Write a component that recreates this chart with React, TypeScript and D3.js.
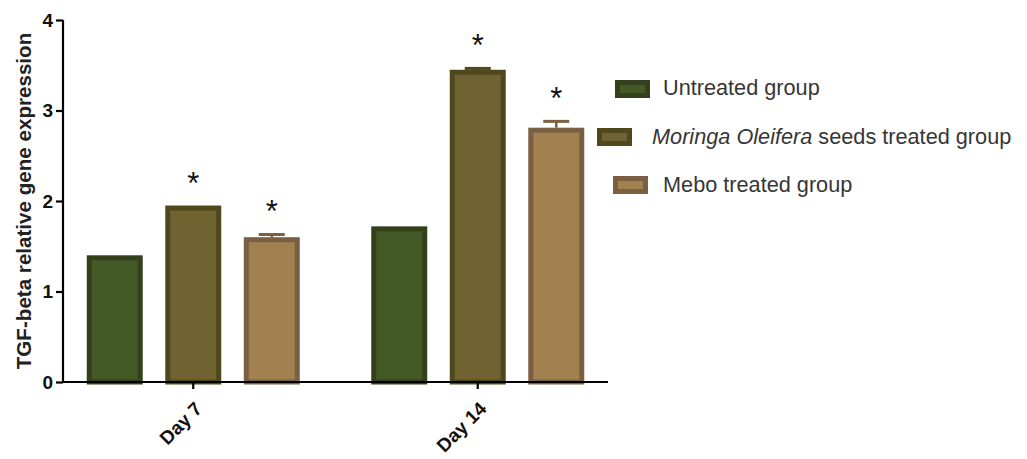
import React, { useRef, useEffect } from "react";
import * as d3 from "d3";

const days = ["Day 7", "Day 14"];
const groups = ["Untreated group", "Moringa Oleifera seeds treated group", "Mebo treated group"];
const untreated = [1.4, 1.72];
const moringa = [1.95, 3.45];
const mebo = [1.6, 2.81];
const moringaErr = [0, 0.015];
const meboErr = [0.03, 0.07];
const starred = [[false, true, true], [false, true, true]];
const yTicks = [0, 1, 2, 3, 4];

const fills = ["#435a26", "#706231", "#a1814f"];
const strokes = ["#343f1b", "#4e481c", "#7a5f43"];
const font = "Liberation Sans, Arial, sans-serif";

const App = () => {
  const svgRef = useRef<SVGSVGElement>(null);

  useEffect(() => {
    const svg = d3.select(svgRef.current);
    svg.selectAll("*").remove();

    const values = [untreated, moringa, mebo];
    const errs = [[0, 0], moringaErr, meboErr];
    const data = days.flatMap((day, i) =>
      groups.map((g, j) => ({ day, group: g, gi: j, value: values[j][i], err: errs[j][i], star: starred[i][j] }))
    );

    const y = d3.scaleLinear().domain([0, 4]).range([382, 20]);
    const x = d3.scaleBand().domain(days).range([51, 620]).padding(0);
    const inner = d3.scaleBand().domain(groups).range([-106.5, 106.5]).paddingInner(0.287).paddingOuter(0);
    const cx = (d) => x(d.day)! + x.bandwidth() / 2 + inner(d.group)!;
    const sw = 5;

    // bars
    svg.append("g").selectAll("rect").data(data).join("rect")
      .attr("x", (d) => cx(d) + sw / 2)
      .attr("y", (d) => y(d.value) + sw / 2)
      .attr("width", inner.bandwidth() - sw)
      .attr("height", (d) => y(0) - y(d.value) - sw / 2)
      .attr("fill", (d) => fills[d.gi])
      .attr("stroke", (d) => strokes[d.gi])
      .attr("stroke-width", sw);

    // error bars
    const eb = svg.append("g").selectAll("g").data(data.filter((d) => d.err > 0)).join("g");
    eb.append("line")
      .attr("x1", (d) => cx(d) + inner.bandwidth() / 2)
      .attr("x2", (d) => cx(d) + inner.bandwidth() / 2)
      .attr("y1", (d) => y(d.value))
      .attr("y2", (d) => y(d.value + d.err))
      .attr("stroke", (d) => strokes[d.gi]).attr("stroke-width", 2.5);
    eb.append("line")
      .attr("x1", (d) => cx(d) + inner.bandwidth() / 2 - 13)
      .attr("x2", (d) => cx(d) + inner.bandwidth() / 2 + 13)
      .attr("y1", (d) => y(d.value + d.err))
      .attr("y2", (d) => y(d.value + d.err))
      .attr("stroke", (d) => strokes[d.gi]).attr("stroke-width", 3);

    // significance stars
    svg.append("g").selectAll("text").data(data.filter((d) => d.star)).join("text")
      .attr("x", (d) => cx(d) + inner.bandwidth() / 2)
      .attr("y", (d) => y(d.value + d.err) - 12)
      .attr("text-anchor", "middle")
      .attr("font-size", 31)
      .attr("font-family", font)
      .attr("fill", "#111")
      .text("*");

    // y axis
    const ya = svg.append("g").attr("transform", "translate(63,0)")
      .call(d3.axisLeft(y).tickValues(yTicks).tickFormat(d3.format("d")).tickSize(7).tickPadding(3));
    ya.select(".domain").attr("stroke-width", 2.2).attr("d", `M0,${y(4)}V${y(0)}`);
    ya.selectAll(".tick line").attr("stroke-width", 2.2);
    ya.selectAll(".tick text").attr("font-size", 19).attr("font-weight", "bold").attr("fill", "#111")
      .attr("font-family", font);

    // x axis
    const xa = svg.append("g").attr("transform", `translate(0,${y(0)})`)
      .call(d3.axisBottom(x).tickSize(7).tickSizeOuter(0));
    xa.select(".domain").attr("stroke-width", 2.2).attr("d", "M63,0H608");
    xa.selectAll(".tick line").attr("stroke-width", 2.2);
    xa.selectAll(".tick text")
      .attr("font-size", 19).attr("font-weight", "bold").attr("fill", "#111")
      .attr("font-family", font)
      .attr("text-anchor", "end")
      .attr("dy", 0)
      .attr("transform", "translate(3,21) rotate(-45)");

    // y label
    svg.append("text")
      .attr("transform", `translate(31,201) rotate(-90)`)
      .attr("text-anchor", "middle")
      .attr("font-size", 20.6)
      .attr("font-weight", "bold")
      .attr("fill", "#222")
      .attr("font-family", font)
      .text("TGF-beta relative gene expression");

    // legend
    const leg = [
      { sx: 615, sy: 80, tx: 663, ty: 95 },
      { sx: 597, sy: 128, tx: 652, ty: 144 },
      { sx: 613, sy: 176, tx: 663, ty: 192 },
    ];
    const lg = svg.append("g").attr("font-family", font).attr("font-size", 21.7);
    groups.forEach((g, i) => {
      const p = leg[i];
      lg.append("rect").attr("x", p.sx + 2.5).attr("y", p.sy + 2.5).attr("width", 30).attr("height", 13)
        .attr("fill", fills[i]).attr("stroke", strokes[i]).attr("stroke-width", 5);
      const t = lg.append("text").attr("x", p.tx).attr("y", p.ty).attr("fill", "#363636");
      if (i === 1) {
        t.append("tspan").attr("font-style", "italic").text("Moringa Oleifera");
        t.append("tspan").text(" seeds treated group");
      } else {
        t.text(g);
      }
    });
  }, []);

  return (
    <svg
      ref={svgRef}
      width={1027}
      height={459}
      style={{ position: "absolute", left: 0, top: 0, background: "#fff", fontFamily: font }}
    />
  );
};

export default App;
